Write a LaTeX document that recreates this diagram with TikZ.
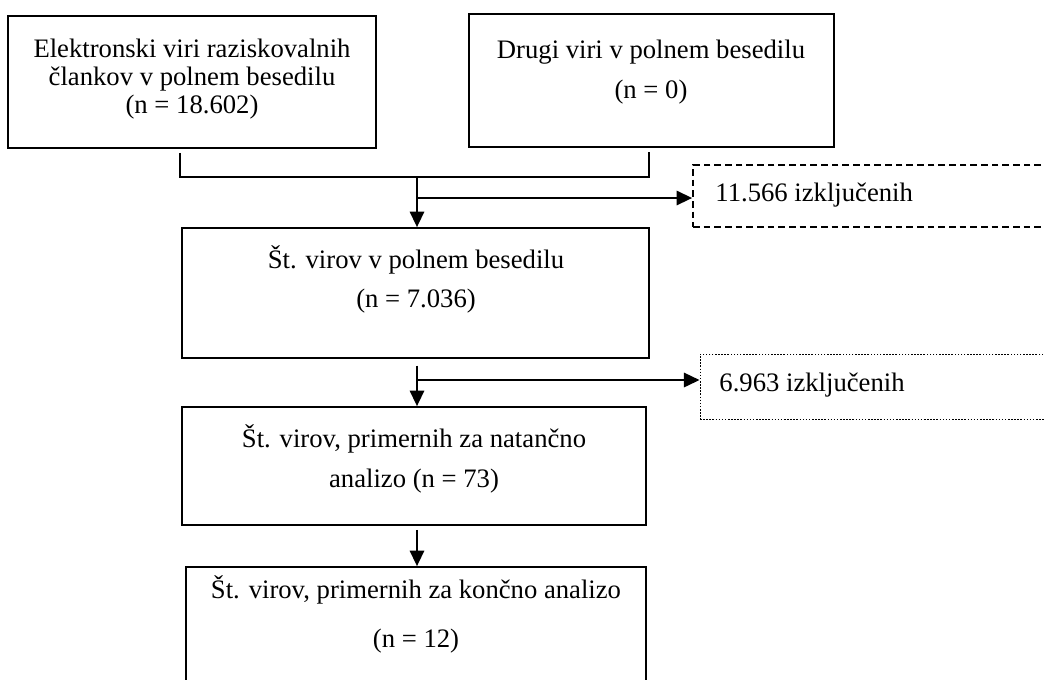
\documentclass[tikz,border=0pt]{standalone}
\usepackage{fontspec}
\setmainfont{Liberation Serif}
\usetikzlibrary{arrows.meta,fit,positioning}

\begin{document}
\begin{tikzpicture}[x=0.45pt, y=-0.45pt,
		font=\fontsize{12pt}{14pt}\selectfont,
		Box/.style={draw, line width=0.8pt, inner sep=0pt},
		ExclBox/.style={draw, line width=0.8pt, dash pattern=on 3pt off 1.8pt, inner sep=0pt},
		ExclBoxThin/.style={draw, line width=0.45pt, dash pattern=on 0.7pt off 0.7pt, inner sep=0pt},
		Txt/.style={anchor=base, inner sep=0pt},
		Flow/.style={line width=0.8pt},
		FlowArrow/.style={line width=0.8pt, -{Triangle[length=7pt, width=6.5pt]}}]
			\pgfmathsetmacro{\MidX}{417}
			\pgfmathsetmacro{\Gap}{1.8}
			\useasboundingbox (0,0) rectangle (1044,679);
			
			% SOURCES
			\node[Box, fit={(8,16) (376,148)}] (ElecSrc) {};
			\node[Txt] (ElecLineA) at (192,57) {Elektronski viri raziskovalnih};
			\node[Txt] (ElecLineB) at (192,85) {člankov v polnem besedilu};
			\node[Txt] (ElecLineC) at (192,113) {(n = 18.602)};
			
			\node[Box, fit={(469,14) (834,147)}] (OtherSrc) {};
			\node[Txt] (OtherLineA) at (651,58) {Drugi viri v polnem besedilu};
			\node[Txt] (OtherLineB) at (651,98) {(n = 0)};
			
			% FULL TEXT
			\node[Box, fit={(182,228) (649,358)}] (FullSrc) {};
			\node[Txt] (FullLineA) at (416,268) {Št. virov v polnem besedilu};
			\node[Txt] (FullLineB) at (416,307) {(n = 7.036)};
			
			\node[ExclBox, fit={(693,165) (1060,227)}] (ExclA) {};
			\node[Txt, anchor=base west] (ExclAText) at (715,201) {11.566 izključenih};
			
			% DETAILED ANALYSIS
			\node[Box, fit={(182,407) (646,525)}] (DetailSrc) {};
			\node[Txt] (DetailLineA) at (414,447) {Št. virov, primernih za natančno};
			\node[Txt] (DetailLineB) at (414,487) {analizo (n = 73)};
			
			\node[ExclBoxThin, fit={(700,354) (1060,419)}] (ExclB) {};
			\node[Txt, anchor=base west] (ExclBText) at (719,391) {6.963 izključenih};
			
			% FINAL ANALYSIS
			\node[Box, fit={(186,567) (646,690)}] (FinalSrc) {};
			\node[Txt] (FinalLineA) at (416,598) {Št. virov, primernih za končno analizo};
			\node[Txt] (FinalLineB) at (416,647) {(n = 12)};
			
			% CONNECTORS
			\coordinate (JoinL) at (180,177);
			\coordinate (JoinR) at (649,177);
			\coordinate (JoinM) at (\MidX,177);
			\coordinate (BranchA) at (\MidX,198);
			\coordinate (BranchB) at (\MidX,380);
			
			\draw[Flow, shorten <=\Gap pt, shorten >=\Gap pt] (ElecSrc.south -| JoinL) -- (JoinL) -- (JoinR) -- (OtherSrc.south -| JoinR);
			\draw[FlowArrow] (JoinM) -- (FullSrc.north -| JoinM);
			\draw[FlowArrow] (BranchA) -- (ExclA.west |- BranchA);
			
			\draw[FlowArrow, shorten <=3pt] (FullSrc.south -| JoinM) -- (DetailSrc.north -| JoinM);
			\draw[FlowArrow] (BranchB) -- (ExclB.west |- BranchB);
			
			\draw[FlowArrow, shorten <=\Gap pt] (DetailSrc.south -| JoinM) -- (FinalSrc.north -| JoinM);
\end{tikzpicture}
\end{document}
